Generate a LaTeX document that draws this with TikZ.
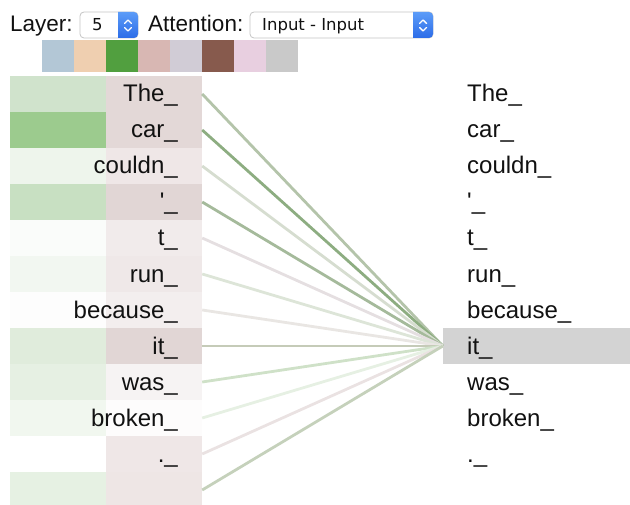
\documentclass[tikz,border=0pt]{standalone}
\usepackage{fontspec}
\setmainfont{Liberation Sans}
\newfontfamily\uifont{DejaVu Sans}
% swatches
\definecolor{s1}{HTML}{B3C7D6}
\definecolor{s2}{HTML}{EFCFB0}
\definecolor{s3}{HTML}{519F3F}
\definecolor{s4}{HTML}{D8B7B3}
\definecolor{s5}{HTML}{D1CCD6}
\definecolor{s6}{HTML}{875A4D}
\definecolor{s7}{HTML}{E8CFE0}
\definecolor{s8}{HTML}{C9C9C9}
% green cells
\definecolor{g1}{HTML}{D0E3CC}
\definecolor{g2}{HTML}{9CCB8E}
\definecolor{g3}{HTML}{EEF5EC}
\definecolor{g4}{HTML}{C8E0C2}
\definecolor{g5}{HTML}{FAFCFA}
\definecolor{g6}{HTML}{F2F7F1}
\definecolor{g7}{HTML}{FDFDFD}
\definecolor{g8}{HTML}{E0ECDC}
\definecolor{g9}{HTML}{E6F0E3}
\definecolor{g10}{HTML}{F1F7EF}
\definecolor{g11}{HTML}{FFFFFF}
\definecolor{g12}{HTML}{E6F1E3}
% pink cells
\definecolor{p1}{HTML}{E3D8D7}
\definecolor{p2}{HTML}{E3D8D7}
\definecolor{p3}{HTML}{EFE7E7}
\definecolor{p4}{HTML}{E1D6D5}
\definecolor{p5}{HTML}{F1EBEB}
\definecolor{p6}{HTML}{EFE8E8}
\definecolor{p7}{HTML}{F3EEEE}
\definecolor{p8}{HTML}{E1D6D5}
\definecolor{p9}{HTML}{F6F3F3}
\definecolor{p10}{HTML}{FDFCFC}
\definecolor{p11}{HTML}{EFE7E7}
\definecolor{p12}{HTML}{EEE6E5}
% links
\definecolor{c1}{HTML}{B4C4AA}
\definecolor{c2}{HTML}{8DAD81}
\definecolor{c3}{HTML}{D6DDD0}
\definecolor{c4}{HTML}{A5BA9B}
\definecolor{c5}{HTML}{E5DFE1}
\definecolor{c6}{HTML}{DDE5D8}
\definecolor{c7}{HTML}{E9E6E3}
\definecolor{c8}{HTML}{C5CBB8}
\definecolor{c9}{HTML}{CFE1C8}
\definecolor{c10}{HTML}{E6F0E3}
\definecolor{c11}{HTML}{EAE2E2}
\definecolor{c12}{HTML}{C5D1BB}
\definecolor{txt}{HTML}{111111}
\definecolor{hlgray}{HTML}{D3D3D3}
\definecolor{uiborder}{HTML}{C4C4C4}
\definecolor{bluetop}{HTML}{5C9CF8}
\definecolor{bluebot}{HTML}{2C6CE8}
\tikzset{
  cell/.style={rectangle, minimum width=96bp, minimum height=36bp, inner sep=0pt, draw=none},
  swatch/.style={rectangle, minimum width=32bp, minimum height=32bp, inner sep=0pt, draw=none},
  tok/.style={inner sep=0pt, text=txt, font=\fontsize{24bp}{28bp}\selectfont},
  lbl/.style={inner sep=0pt, text=txt, font=\fontsize{22.5bp}{26bp}\selectfont},
  ui/.style={inner sep=0pt, text=txt, font=\uifont\fontsize{16.5bp}{20bp}\selectfont},
  link/.style={line width=2.8bp},
  chev/.style={draw=white, line width=1.4bp, line cap=round, line join=round},
  uibox/.style={draw=uiborder, line width=0.8bp, fill=white, rounded corners=4bp}
}
\begin{document}
\begin{tikzpicture}[x=1bp,y=-1bp]
\useasboundingbox (0,0) rectangle (630,505);
% --- controls
\node[lbl, anchor=base west] (layerlbl) at (10,32) {Layer:};
\draw[uibox] (80,12) rectangle (138,38);
\begin{scope}
  \clip (118,8) rectangle (142,42);
  \shade[top color=bluetop, bottom color=bluebot, rounded corners=4bp] (80,12) rectangle (138,38);
\end{scope}
\draw[chev] (124.5,23.5) -- (128,20) -- (131.5,23.5);
\draw[chev] (124.5,27.5) -- (128,31) -- (131.5,27.5);
\node[ui, anchor=base west] (layerval) at (92,31) {5};
\node[lbl, anchor=base west] (attlbl) at (148,32) {Attention:};
\draw[uibox] (250,12) rectangle (433,38);
\begin{scope}
  \clip (413,8) rectangle (437,42);
  \shade[top color=bluetop, bottom color=bluebot, rounded corners=4bp] (250,12) rectangle (433,38);
\end{scope}
\draw[chev] (419.5,23.5) -- (423,20) -- (426.5,23.5);
\draw[chev] (419.5,27.5) -- (423,31) -- (426.5,27.5);
\node[ui, anchor=base west] (attval) at (262,31) {Input - Input};
% --- swatches
\foreach \k in {1,...,8}{
  \node[swatch, fill=s\k] (sw\k) at ({42+32*(\k-1)+16},56) {};
}
% --- highlight on the right
\node[rectangle, minimum width=187bp, minimum height=36bp, inner sep=0pt, fill=hlgray] (hl) at (536.5,346) {};
% --- left cells
\foreach \i in {1,...,12}{
  \node[cell, fill=g\i] (g\i) at (58,{94+36*(\i-1)}) {};
  \node[cell, fill=p\i] (p\i) at (154,{94+36*(\i-1)}) {};
}
% --- links
\foreach \i in {1,...,12}{
  \draw[link, draw=c\i] (p\i.east) -- (hl.west);
}
% --- tokens
\foreach \i/\w in {1/The\_,2/car\_,3/couldn\_,4/\textquotesingle\_,5/t\_,6/run\_,7/because\_,8/it\_,9/was\_,10/broken\_,11/.\_}{
  \node[tok, anchor=base east] (lt\i) at (178,{102+36*(\i-1)}) {\w};
  \node[tok, anchor=base west] (rt\i) at (467,{102+36*(\i-1)}) {\w};
}
\end{tikzpicture}
\end{document}
